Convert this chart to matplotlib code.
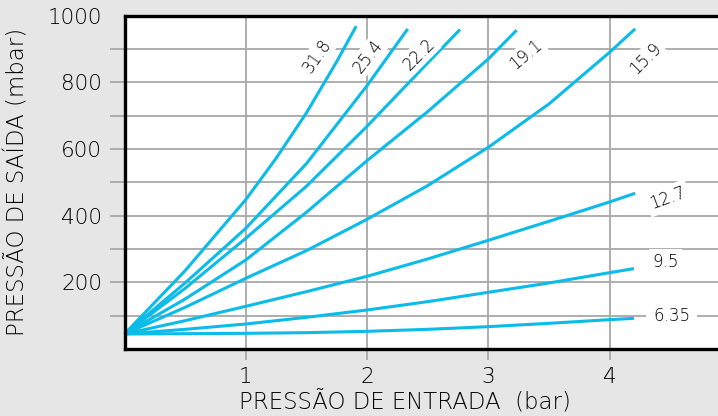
import matplotlib
matplotlib.use("Agg")
import matplotlib.pyplot as plt

# ---- data ----
sizes = ["31.8", "25.4", "22.2", "19.1", "15.9", "12.7", "9.5", "6.35"]

x_318 = [0, 0.5, 1, 1.25, 1.5, 1.75, 1.91]
y_318 = [45, 235, 448, 572, 708, 862, 968]

x_254 = [0, 0.5, 1, 1.5, 2, 2.335]
y_254 = [45, 198, 362, 556, 790, 960]

x_222 = [0, 0.5, 1, 1.5, 2, 2.5, 2.766]
y_222 = [45, 182, 332, 488, 668, 858, 958]

x_191 = [0, 0.5, 1, 1.5, 2, 2.5, 3, 3.233]
y_191 = [45, 150, 267, 410, 565, 712, 870, 956]

x_159 = [0, 0.5, 1, 1.5, 2, 2.5, 3, 3.5, 4, 4.21]
y_159 = [45, 125, 212, 295, 389, 490, 605, 735, 890, 960]

x_127 = [0, 0.5, 1, 1.5, 2, 2.5, 3, 3.5, 4, 4.21]
y_127 = [45, 85, 128, 172, 218, 270, 326, 383, 441, 467]

x_95 = [0, 0.5, 1, 1.5, 2, 2.5, 3, 3.5, 4, 4.2]
y_95 = [45, 59, 75, 95, 117, 142, 170, 198, 229, 241]

x_635 = [0, 0.5, 1, 1.5, 2, 2.5, 3, 3.5, 4, 4.2]
y_635 = [45, 46, 47, 49, 53, 59, 67, 77, 88, 92]

xs = [x_318, x_254, x_222, x_191, x_159, x_127, x_95, x_635]
ys = [y_318, y_254, y_222, y_191, y_159, y_127, y_95, y_635]

x_ticks = [1, 2, 3, 4]
y_ticks = [100, 200, 300, 400, 500, 600, 700, 800, 900, 1000]
y_tick_labels = ["", "200", "", "400", "", "600", "", "800", "", "1000"]

# label placement (data coords) and rotation
lab_x = [1.59, 2.01, 2.43, 3.31, 4.30, 4.48, 4.46, 4.51]
lab_y = [879, 879, 884, 884, 871, 452, 262, 100]
lab_rot = [55, 52, 45, 40, 45, 20, 0, 0]
lab_pad = [1.5, 1.5, 1.5, 1.5, 1.5, 2.5, 2.5, 5]

# ---- style ----
FONT = ["DejaVu Sans"]
W = 250
plt.rcParams["font.family"] = FONT
plt.rcParams["font.weight"] = W
plt.rcParams["axes.labelweight"] = W

BG = "#e6e6e6"
GRID = "#a8a8a8"
LINE = "#0bbbe9"
TXT = "#000000"

fig = plt.figure(figsize=(7.18, 4.16), dpi=100, facecolor=BG)
ax = fig.add_axes([124.5 / 718, 1 - 349 / 416, 1 - 124.5 / 718, (349 - 15.5) / 416])
ax.set_facecolor("white")

ax.set_xlim(0, (718 - 124.5) / 121.3)
ax.set_ylim(0, 1000)

ax.set_xticks(x_ticks)
ax.set_xticklabels([str(t) for t in x_ticks])
ax.set_yticks(y_ticks)
ax.set_yticklabels(y_tick_labels)
ax.yaxis.get_major_ticks()[-1].tick1line.set_visible(False)

ax.tick_params(axis="both", color=GRID, width=1.3)
ax.tick_params(axis="both", labelcolor=TXT, labelsize=15.5)
ax.tick_params(axis="y", length=11, pad=5)
ax.tick_params(axis="x", length=8, pad=5)

ax.grid(True, color=GRID, lw=1.3, zorder=0)
ax.set_axisbelow(True)

for s in ["left", "bottom", "top"]:
    ax.spines[s].set_color("black")
    ax.spines[s].set_linewidth(2.4)
    ax.spines[s].set_zorder(5)
ax.spines["right"].set_visible(False)

for x, y in zip(xs, ys):
    ax.plot(x, y, color=LINE, lw=2.2, solid_capstyle="butt", zorder=3,
            clip_on=False)

for name, lx, ly, r, p in zip(sizes, lab_x, lab_y, lab_rot, lab_pad):
    ax.text(lx, ly, name, rotation=r,
            ha="center", va="center", fontsize=12, color=TXT, zorder=4,
            fontweight=W,
            bbox=dict(facecolor="white", edgecolor="none", pad=p))

ax.set_ylabel("PRESSÃO DE SAÍDA (mbar)", fontsize=16.5, color=TXT, fontweight=W)
ax.yaxis.set_label_coords((18 - 124.5) / (718 - 124.5), 0.5)
ax.set_xlabel("PRESSÃO DE ENTRADA  (bar)", fontsize=16.5, color=TXT, fontweight=W)
ax.xaxis.set_label_coords((405 - 124.5) / (718 - 124.5), -(403 - 349) / (349 - 15.5))
ax.xaxis.label.set_va("center")
ax.yaxis.label.set_va("center")

fig.savefig("out.png", dpi=100, facecolor=BG)
